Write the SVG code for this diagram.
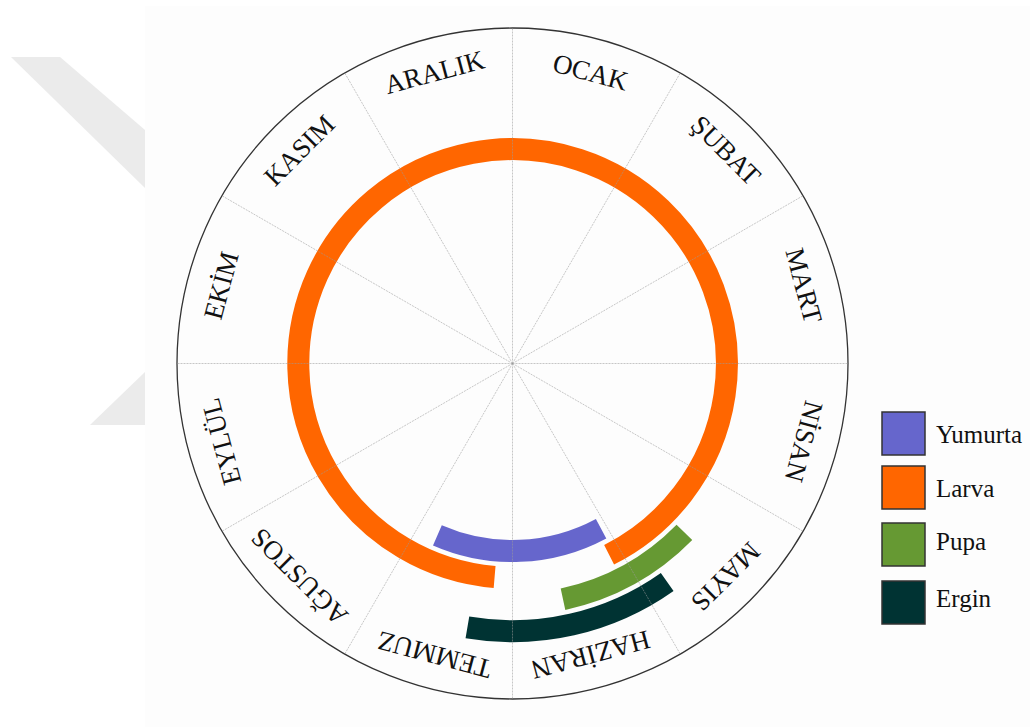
<svg xmlns="http://www.w3.org/2000/svg" width="1030" height="727" viewBox="0 0 1030 727">
  <style>
    .bg { fill: #ffffff; }
    .wm { fill: #ebebeb; }
    .panel { fill: #fdfdfd; }
    .spoke { stroke: #9a9a9a; stroke-width: 0.7; stroke-dasharray: 2 1; fill: none; opacity: 0.8; }
    .rim { fill: none; stroke: #333333; stroke-width: 1.3; }
    .arc { fill: none; stroke-width: 22; stroke-linecap: butt; }
    .month { font-family: "Liberation Serif", "Times New Roman", serif; font-size: 27px; fill: #111111; text-anchor: middle; }
    .legtext { font-family: "Liberation Serif", "Times New Roman", serif; font-size: 25px; fill: #111111; }
    .legbox { stroke: #333333; stroke-width: 1.5; }
  </style>
  <rect class="bg" x="0" y="0" width="1030" height="727"/>
  <g id="watermark">
    <polygon class="wm" points="11,57 60,57 145,130 145,188"/>
    <polygon class="wm" points="145,372 145,425 90,425"/>
  </g>
  <rect class="panel" x="145" y="6" width="885" height="721"/>

  <g id="rim">
    <circle class="rim" cx="512.5" cy="363.5" r="335.5"/>
  </g>

  <g id="arcs">
    <path id="yumurta-arc" class="arc" stroke="#6666cc" d="M 601.1 528.7 A 187.5 187.5 0 0 1 437.4 535.3"/>
    <path id="larva-arc" class="arc" stroke="#ff6600" d="M 494.6 577.0 A 214.3 214.3 0 1 1 609.1 554.8"/>
    <path id="pupa-arc" class="arc" stroke="#669933" d="M 684.4 532.4 A 241 241 0 0 1 563.0 599.2"/>
    <path id="ergin-arc" class="arc" stroke="#003333" d="M 667.2 582.0 A 267.7 267.7 0 0 1 467.4 627.4"/>
  </g>

  <g id="spokes">
    <line class="spoke" x1="512.5" y1="363.5" x2="512.5" y2="28"/>
    <line class="spoke" x1="512.5" y1="363.5" x2="680.25" y2="73"/>
    <line class="spoke" x1="512.5" y1="363.5" x2="803" y2="195.75"/>
    <line class="spoke" x1="512.5" y1="363.5" x2="848" y2="363.5"/>
    <line class="spoke" x1="512.5" y1="363.5" x2="803" y2="531.25"/>
    <line class="spoke" x1="512.5" y1="363.5" x2="680.25" y2="654"/>
    <line class="spoke" x1="512.5" y1="363.5" x2="512.5" y2="699"/>
    <line class="spoke" x1="512.5" y1="363.5" x2="344.75" y2="654"/>
    <line class="spoke" x1="512.5" y1="363.5" x2="222" y2="531.25"/>
    <line class="spoke" x1="512.5" y1="363.5" x2="177" y2="363.5"/>
    <line class="spoke" x1="512.5" y1="363.5" x2="222" y2="195.75"/>
    <line class="spoke" x1="512.5" y1="363.5" x2="344.75" y2="73"/>
  </g>

  <g id="months">
    <text class="month" x="512.5" y="71" transform="rotate(15 512.5 363.5)">OCAK</text>
    <text class="month" x="512.5" y="71" transform="rotate(45 512.5 363.5)">ŞUBAT</text>
    <text class="month" x="512.5" y="71" transform="rotate(75 512.5 363.5)">MART</text>
    <text class="month" x="512.5" y="71" transform="rotate(105 512.5 363.5)">NİSAN</text>
    <text class="month" x="512.5" y="71" transform="rotate(135 512.5 363.5)">MAYIS</text>
    <text class="month" x="512.5" y="71" transform="rotate(165 512.5 363.5)">HAZİRAN</text>
    <text class="month" x="512.5" y="71" transform="rotate(195 512.5 363.5)">TEMMUZ</text>
    <text class="month" x="512.5" y="71" transform="rotate(225 512.5 363.5)">AĞUSTOS</text>
    <text class="month" x="512.5" y="71" transform="rotate(255 512.5 363.5)">EYLÜL</text>
    <text class="month" x="512.5" y="71" transform="rotate(285 512.5 363.5)">EKİM</text>
    <text class="month" x="512.5" y="71" transform="rotate(315 512.5 363.5)">KASIM</text>
    <text class="month" x="512.5" y="71" transform="rotate(345 512.5 363.5)">ARALIK</text>
  </g>

  <g id="legend">
    <g id="legend-yumurta">
      <rect class="legbox" x="882" y="412" width="43" height="43" fill="#6666cc"/>
      <text class="legtext" x="936" y="443">Yumurta</text>
    </g>
    <g id="legend-larva">
      <rect class="legbox" x="882" y="466" width="43" height="43" fill="#ff6600"/>
      <text class="legtext" x="936" y="497">Larva</text>
    </g>
    <g id="legend-pupa">
      <rect class="legbox" x="882" y="523" width="43" height="43" fill="#669933"/>
      <text class="legtext" x="936" y="550">Pupa</text>
    </g>
    <g id="legend-ergin">
      <rect class="legbox" x="882" y="581" width="43" height="43" fill="#003333"/>
      <text class="legtext" x="936" y="607">Ergin</text>
    </g>
  </g>
</svg>
